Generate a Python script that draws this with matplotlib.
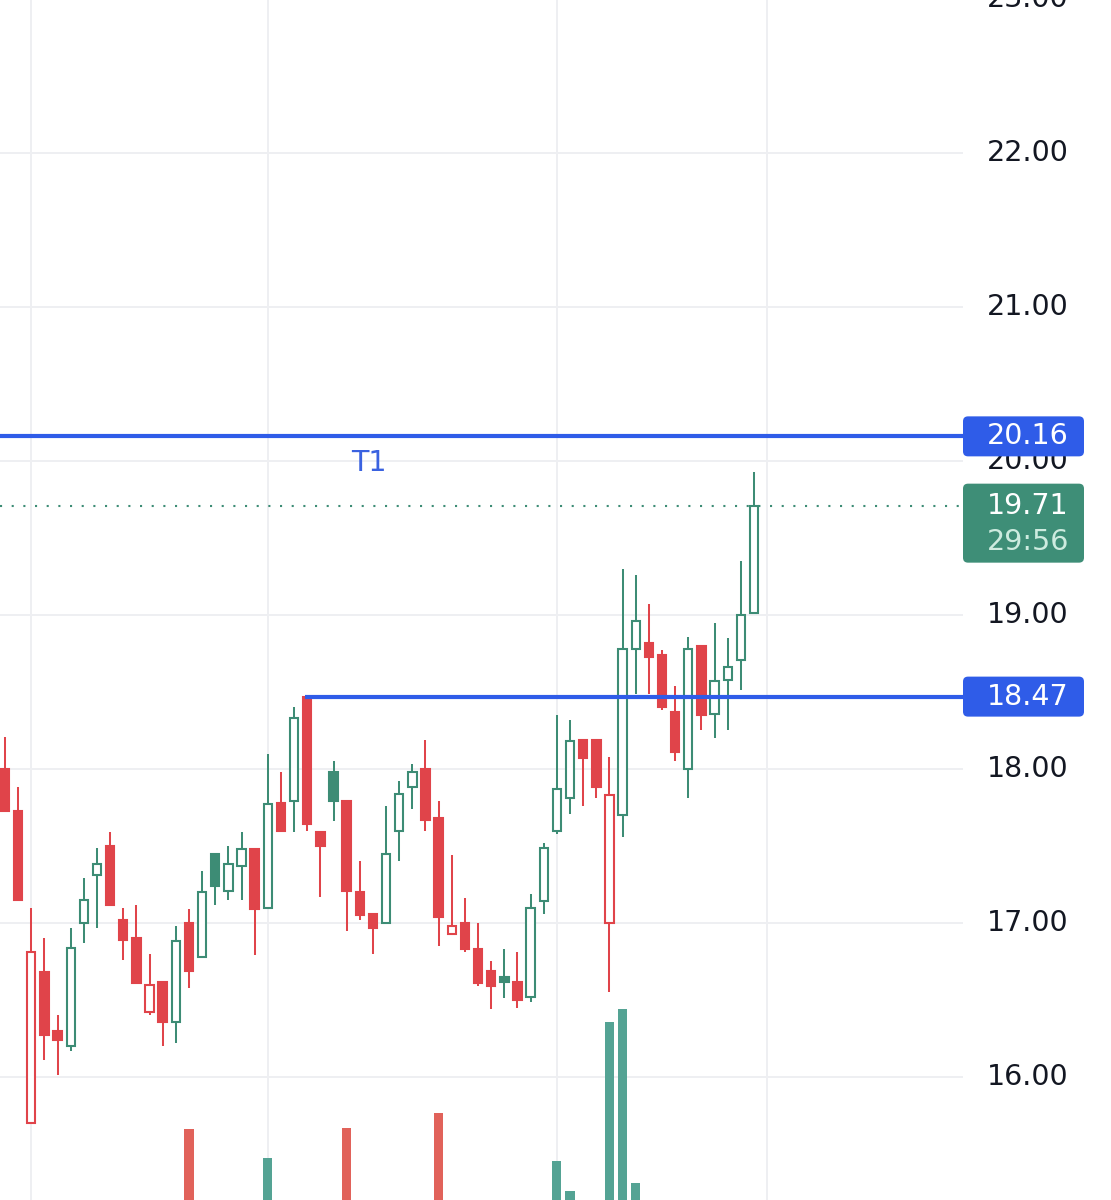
import matplotlib
matplotlib.use('Agg')
import matplotlib.pyplot as plt
from matplotlib.patches import FancyBboxPatch
from matplotlib.transforms import blended_transform_factory, IdentityTransform
import numpy as np

# ---------------- data ----------------
opens = [18.00, 17.73, 15.70, 16.68, 16.30, 16.20, 17.00, 17.31, 17.50, 17.02,
         16.90, 16.42, 16.62, 16.36, 17.00, 16.78, 17.45, 17.21, 17.37, 17.48,
         17.10, 17.78, 17.79, 18.47, 17.59, 17.98, 17.79, 17.20, 17.06, 17.00,
         17.60, 17.88, 18.00, 17.68, 16.93, 17.00, 16.83, 16.69, 16.65, 16.62,
         16.52, 17.14, 17.60, 17.81, 18.19, 18.19, 17.00, 17.70, 18.78, 18.82,
         18.74, 18.37, 18.00, 18.80, 18.36, 18.58, 18.71, 19.01]
highs = [18.21, 17.88, 17.10, 16.90, 16.40, 16.97, 17.29, 17.49, 17.59, 17.10,
         17.12, 16.80, 16.62, 16.98, 17.09, 17.34, 17.45, 17.50, 17.59, 17.48,
         18.10, 17.98, 18.40, 18.47, 17.59, 18.05, 17.79, 17.40, 17.06, 17.76,
         17.92, 18.03, 18.19, 17.79, 17.44, 17.16, 17.00, 16.75, 16.83, 16.81,
         17.19, 17.52, 18.35, 18.32, 18.19, 18.19, 18.08, 19.30, 19.26, 19.07,
         18.77, 18.54, 18.86, 18.80, 18.95, 18.85, 19.35, 19.93]
lows = [17.73, 17.15, 15.70, 16.11, 16.01, 16.17, 16.87, 16.97, 17.12, 16.76,
        16.61, 16.40, 16.20, 16.22, 16.58, 16.78, 17.12, 17.15, 17.15, 16.79,
        17.10, 17.60, 17.59, 17.60, 17.17, 17.66, 16.95, 17.02, 16.80, 17.00,
        17.40, 17.74, 17.60, 16.85, 16.93, 16.81, 16.59, 16.44, 16.51, 16.45,
        16.49, 17.06, 17.58, 17.71, 17.76, 17.81, 16.55, 17.56, 18.49, 18.49,
        18.38, 18.05, 17.81, 18.25, 18.20, 18.25, 18.51, 19.01]
closes = [17.73, 17.15, 16.81, 16.27, 16.24, 16.84, 17.15, 17.38, 17.12, 16.89,
          16.61, 16.60, 16.36, 16.88, 16.69, 17.20, 17.24, 17.38, 17.48, 17.09,
          17.77, 17.60, 18.33, 17.64, 17.50, 17.79, 17.21, 17.05, 16.97, 17.45,
          17.84, 17.98, 17.67, 17.04, 16.98, 16.83, 16.61, 16.59, 16.62, 16.50,
          17.10, 17.49, 17.87, 18.18, 18.07, 17.88, 17.83, 18.78, 18.96, 18.73,
          18.40, 18.11, 18.78, 18.35, 18.57, 18.66, 19.00, 19.71]
# volume in millions (most bars sit below the visible area)
volumes = [0.55, 0.60, 0.80, 0.50, 0.40, 0.45, 0.35, 0.30, 0.40, 0.35,
           0.45, 0.30, 0.40, 0.50, 1.61, 0.55, 0.35, 0.30, 0.30, 0.60,
           1.32, 0.50, 0.70, 0.85, 0.45, 0.40, 1.62, 0.50, 0.40, 0.55,
           0.45, 0.35, 0.60, 1.77, 0.45, 0.40, 0.50, 0.40, 0.30, 0.45,
           0.70, 0.60, 1.29, 0.99, 0.50, 0.55, 2.68, 2.81, 1.07, 0.70,
           0.60, 0.55, 0.75, 0.60, 0.55, 0.40, 0.70, 0.85]

price_ticks = [16, 17, 18, 19, 20, 21, 22, 23]
price_tick_labels = ['16.00', '17.00', '18.00', '19.00', '20.00', '21.00', '22.00', '23.00']
session_breaks = [2, 20, 42, 58]

target_level = 20.16
target_label = 'T1'
target_label_pos = (27.7, 19.99)
support_level = 18.47
support_start = 23
last_price = 19.71
countdown = '29:56'

# ---------------- styles ----------------
UP = '#3D8C75'
DOWN = '#E0444A'
VOL_UP = '#54A394'
VOL_DOWN = '#E1625A'
BLUE = '#2F5CE8'
GRID = '#EEEFF2'
TXT = '#131722'
FONT = 'DejaVu Sans'
FS = 20.5

W, H = 1111, 1200
fig = plt.figure(figsize=(W / 100, H / 100), dpi=100)
fig.patch.set_facecolor('white')
ax_w = 963
ax = fig.add_axes([0, 0, ax_w / W, 1])
ax.set_xlim(-0.381, -0.381 + ax_w / 13.14)
ax.set_ylim(16 - 123 / 154, 22 + 153 / 154)
for s in ax.spines.values():
    s.set_visible(False)
ax.set_xticks([])
ax.set_yticks([])

# grid
for p in price_ticks:
    ax.axhline(p, color=GRID, lw=1.4, zorder=0)
for b in session_breaks:
    ax.axvline(b, color=GRID, lw=1.4, zorder=0)

o = np.array(opens); h = np.array(highs); l = np.array(lows); c = np.array(closes)
x = np.arange(len(o))
prev = np.concatenate([[np.inf], c[:-1]])
cols = np.where(c >= prev, UP, DOWN)
hollow = c > o
faces = np.where(hollow, 'white', cols)

ax.vlines(x, l, h, colors=cols, lw=1.45, zorder=2)
ax.bar(x, np.maximum(np.abs(c - o), 0.004), bottom=np.minimum(o, c), width=0.64,
       color=faces, edgecolor=cols, linewidth=1.5, zorder=3)

# levels
ax.axhline(target_level, color=BLUE, lw=3.0, zorder=4)
ax.plot([support_start - 0.2, ax.get_xlim()[1]], [support_level, support_level],
        color=BLUE, lw=3.0, zorder=4, solid_capstyle='butt')
ax.axhline(last_price, color=UP, lw=1.5, ls=(0, (1, 4.6)), zorder=4)
ax.text(target_label_pos[0], target_label_pos[1], target_label, color='#3A62E0',
        fontsize=FS, family=FONT, ha='center', va='center', zorder=5)

# volume
axv = ax.twinx()
axv.set_ylim(0.9, 12.9)
axv.set_axis_off()
vcols = np.where(c >= o, VOL_UP, VOL_DOWN)
axv.bar(x, volumes, width=0.7, color=vcols, zorder=1)

# right price scale labels
lab_x = 1028 / W
tr = blended_transform_factory(fig.transFigure, ax.transData)
for p, t in zip(price_ticks, price_tick_labels):
    ax.text(lab_x, p, t, transform=tr, ha='center', va='center', fontsize=FS,
            family=FONT, color=TXT, clip_on=False, zorder=6)

fig.canvas.draw()


def ydisp(p):
    return ax.transData.transform((0, p))[1]


def add_box(yc_top, yc_bot, color):
    bx = FancyBboxPatch((963, yc_bot), 121, yc_top - yc_bot,
                        boxstyle='round,pad=0,rounding_size=5',
                        transform=IdentityTransform(), facecolor=color,
                        edgecolor='none', zorder=10)
    fig.add_artist(bx)


for lvl in (target_level, support_level):
    yd = ydisp(lvl)
    add_box(yd + 20, yd - 20, BLUE)
    fig.text(lab_x, yd / H, f'{lvl:.2f}', ha='center', va='center', fontsize=FS,
             family=FONT, color='white', zorder=11)

yd = ydisp(last_price)
add_box(yd + 22, yd - 57, '#3E8E77')
fig.text(lab_x, yd / H, f'{last_price:.2f}', ha='center', va='center', fontsize=FS,
         family=FONT, color='white', zorder=11)
fig.text(lab_x, (yd - 36) / H, countdown, ha='center', va='center', fontsize=FS,
         family=FONT, color='#CDEBDF', zorder=11)

fig.savefig('out.png', dpi=100, facecolor='white')
